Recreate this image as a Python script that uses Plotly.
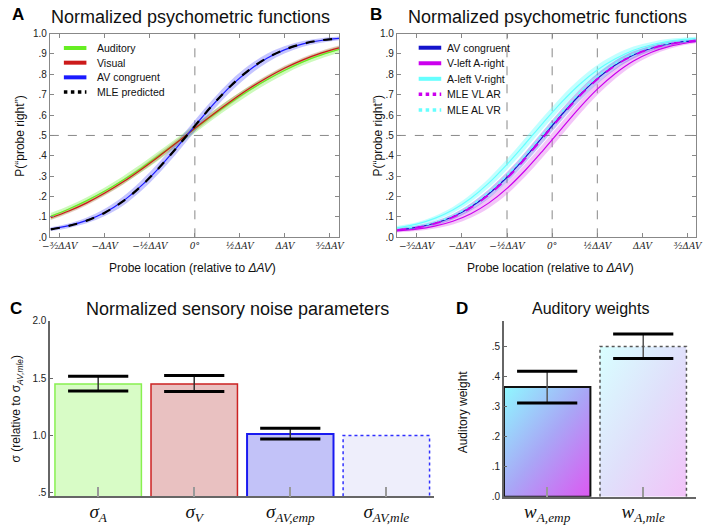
import base64
import plotly.graph_objects as go

W, H = 705, 527
SANS = "Liberation Sans, Arial, sans-serif"
SERIF = "Liberation Serif, DejaVu Serif, serif"
MATH = "DejaVu Serif, serif"

# ---------------- data ----------------
# Panel A: normalized psychometric functions (probe location in units of ΔAV)
x_a = [-1.6, -1.4, -1.2, -1.0, -0.8, -0.6, -0.4, -0.2, 0.0, 0.2, 0.4, 0.6, 0.8, 1.0, 1.2, 1.4, 1.6]
p_auditory = [0.103, 0.139, 0.180, 0.227, 0.280, 0.338, 0.401, 0.467, 0.533, 0.599, 0.662, 0.720, 0.773, 0.820, 0.861, 0.894, 0.922]
ci_auditory = [0.016, 0.016, 0.017, 0.018, 0.019, 0.020, 0.021, 0.021, 0.021, 0.021, 0.021, 0.020, 0.019, 0.018, 0.017, 0.016, 0.016]
p_visual = [0.096, 0.129, 0.169, 0.217, 0.271, 0.332, 0.397, 0.465, 0.535, 0.603, 0.668, 0.729, 0.783, 0.831, 0.871, 0.904, 0.930]
ci_visual = [0.011, 0.011, 0.012, 0.012, 0.013, 0.013, 0.014, 0.014, 0.014, 0.014, 0.014, 0.013, 0.013, 0.012, 0.012, 0.011, 0.011]
p_av = [0.040, 0.057, 0.083, 0.122, 0.177, 0.251, 0.340, 0.441, 0.547, 0.650, 0.743, 0.819, 0.879, 0.921, 0.949, 0.966, 0.976]
ci_av = [0.009, 0.011, 0.014, 0.018, 0.022, 0.025, 0.027, 0.028, 0.028, 0.028, 0.027, 0.025, 0.022, 0.018, 0.014, 0.011, 0.009]
p_mle = [0.039, 0.056, 0.082, 0.121, 0.176, 0.250, 0.340, 0.441, 0.547, 0.651, 0.744, 0.821, 0.880, 0.922, 0.950, 0.967, 0.976]

# Panel B
x_b = [-1.72, -1.5, -1.3, -1.1, -0.9, -0.7, -0.5, -0.3, -0.1, 0.1, 0.3, 0.5, 0.7, 0.9, 1.1, 1.3, 1.5, 1.6]
pb_av = [0.036, 0.049, 0.069, 0.101, 0.149, 0.214, 0.295, 0.391, 0.495, 0.599, 0.696, 0.779, 0.846, 0.895, 0.928, 0.950, 0.962, 0.966]
cib_av = [0.008, 0.009, 0.011, 0.014, 0.018, 0.022, 0.025, 0.027, 0.028, 0.028, 0.027, 0.025, 0.022, 0.018, 0.014, 0.011, 0.009, 0.008]
pb_vlar = [0.032, 0.040, 0.055, 0.079, 0.116, 0.169, 0.240, 0.328, 0.427, 0.531, 0.634, 0.727, 0.804, 0.865, 0.908, 0.937, 0.955, 0.961]
cib_vlar = [0.008, 0.009, 0.012, 0.016, 0.020, 0.025, 0.029, 0.031, 0.032, 0.032, 0.031, 0.029, 0.025, 0.020, 0.016, 0.012, 0.009, 0.008]
pb_alvr = [0.047, 0.065, 0.093, 0.134, 0.192, 0.267, 0.358, 0.458, 0.562, 0.661, 0.749, 0.821, 0.876, 0.918, 0.945, 0.963, 0.973, 0.977]
cib_alvr = [0.008, 0.009, 0.012, 0.015, 0.019, 0.023, 0.026, 0.028, 0.028, 0.028, 0.027, 0.025, 0.022, 0.018, 0.014, 0.011, 0.009, 0.008]
pb_mle_vlar = [0.035, 0.048, 0.068, 0.099, 0.146, 0.210, 0.290, 0.386, 0.490, 0.594, 0.692, 0.776, 0.844, 0.893, 0.927, 0.949, 0.961, 0.966]
pb_mle_alvr = [0.038, 0.052, 0.073, 0.106, 0.156, 0.222, 0.304, 0.402, 0.507, 0.611, 0.707, 0.788, 0.853, 0.900, 0.932, 0.953, 0.964, 0.968]
b_ref_x = [-0.5, 0.0, 0.5]

loc_tickvals = [-1.5, -1.0, -0.5, 0.0, 0.5, 1.0, 1.5]
loc_ticktext = ["−³⁄₂ΔAV", "−ΔAV", "−½ΔAV", "0°", "½ΔAV", "ΔAV", "³⁄₂ΔAV"]
p_tickvals = [0.0, 0.1, 0.2, 0.3, 0.4, 0.5, 0.6, 0.7, 0.8, 0.9, 1.0]
p_ticktext = [".0", ".1", ".2", ".3", ".4", ".5", ".6", ".7", ".8", ".9", "1.0"]

# Panel C: normalized sensory noise
sigma_labels = ["σ<sub>A</sub>", "σ<sub>V</sub>", "σ<sub>AV,emp</sub>", "σ<sub>AV,mle</sub>"]
sigma_vals = [1.45, 1.45, 1.015, 1.0]
sigma_err_hi = [0.067, 0.075, 0.050, 0.0]
sigma_err_lo = [0.060, 0.065, 0.045, 0.0]
sigma_ticks = [0.5, 1.0, 1.5, 2.0]
sigma_ticktext = [".5", "1.0", "1.5", "2.0"]

# Panel D: auditory weights
w_labels = ["w<sub>A,emp</sub>", "w<sub>A,mle</sub>"]
w_vals = [0.365, 0.500]
w_err_hi = [0.053, 0.042]
w_err_lo = [0.053, 0.040]
w_ticks = [0.0, 0.1, 0.2, 0.3, 0.4, 0.5]
w_ticktext = [".0", ".1", ".2", ".3", ".4", ".5"]

# ---------------- helpers ----------------
def px(x):
    return x / W


def py(y):
    return 1 - y / H


fig = go.Figure()


def add_band(x, y, ci, color, xr, yr):
    lo = [v - c for v, c in zip(y, ci)]
    hi = [v + c for v, c in zip(y, ci)]
    fig.add_trace(go.Scatter(x=x, y=lo, mode="lines", line=dict(width=0, shape="spline"),
                             hoverinfo="skip", showlegend=False, xaxis=xr, yaxis=yr))
    fig.add_trace(go.Scatter(x=x, y=hi, mode="lines", line=dict(width=0, shape="spline"),
                             fill="tonexty", fillcolor=color, hoverinfo="skip",
                             showlegend=False, xaxis=xr, yaxis=yr))


def add_curve(x, y, name, color, width, dash, xr, yr):
    fig.add_trace(go.Scatter(x=x, y=y, name=name, mode="lines",
                             line=dict(color=color, width=width, dash=dash, shape="spline"),
                             showlegend=False, xaxis=xr, yaxis=yr))


# ---------------- Panel A ----------------
GREEN, RED, BLUE = "#66ee22", "#cc1a1a", "#1a1aff"
add_band(x_a, p_auditory, ci_auditory, "rgba(110,240,60,0.35)", "x", "y")
add_band(x_a, p_visual, ci_visual, "rgba(180,80,50,0.30)", "x", "y")
add_band(x_a, p_av, ci_av, "rgba(90,90,255,0.35)", "x", "y")
add_curve(x_a, p_auditory, "Auditory", GREEN, 1.2, "solid", "x", "y")
add_curve(x_a, p_visual, "Visual", RED, 1.2, "solid", "x", "y")
add_curve(x_a, p_av, "AV congruent", BLUE, 1.2, "solid", "x", "y")
add_curve(x_a, p_mle, "MLE predicted", "#000000", 2.2, "dash", "x", "y")

# ---------------- Panel B ----------------
BBLUE, MAG, CYAN = "#1414cc", "#cc00ee", "#66ffff"
add_band(x_b, pb_alvr, cib_alvr, "rgba(120,255,255,0.45)", "x2", "y2")
add_band(x_b, pb_vlar, cib_vlar, "rgba(220,90,235,0.35)", "x2", "y2")
add_band(x_b, pb_av, cib_av, "rgba(80,80,230,0.35)", "x2", "y2")
add_curve(x_b, pb_alvr, "A-left V-right", CYAN, 1.2, "solid", "x2", "y2")
add_curve(x_b, pb_vlar, "V-left A-right", MAG, 1.2, "solid", "x2", "y2")
add_curve(x_b, pb_av, "AV congruent", BBLUE, 1.2, "solid", "x2", "y2")
add_curve(x_b, pb_mle_alvr, "MLE AL VR", CYAN, 1.5, "dot", "x2", "y2")
add_curve(x_b, pb_mle_vlar, "MLE VL AR", MAG, 2.0, "dash", "x2", "y2")

# ---------------- Panel C ----------------
c_x = list(range(len(sigma_vals)))
c_fill = ["#d8fcc6", "#e9c1c1", "#c2c2f8", "#eeeefb"]
c_line = ["#88f050", "#cc2222", "#1a1af0", "rgba(0,0,0,0)"]
c_lw = [1.5, 1.5, 2, 0]
BAR_W = 0.9
fig.add_trace(go.Bar(x=c_x, y=sigma_vals, width=BAR_W, name="sigma",
                     marker=dict(color=c_fill, line=dict(color=c_line, width=c_lw)),
                     error_y=dict(type="data", symmetric=False, array=sigma_err_hi,
                                  arrayminus=sigma_err_lo, thickness=1.5, width=0, color="#333"),
                     showlegend=False, xaxis="x3", yaxis="y3"))
c_base = 0.471
i_mle = 3
fig.add_trace(go.Scatter(
    x=[c_x[i_mle] - BAR_W / 2, c_x[i_mle] - BAR_W / 2, c_x[i_mle] + BAR_W / 2, c_x[i_mle] + BAR_W / 2],
    y=[c_base, sigma_vals[i_mle], sigma_vals[i_mle], c_base], mode="lines",
    line=dict(color="#3030ff", width=1.5, dash="dot"), showlegend=False, hoverinfo="skip",
    xaxis="x3", yaxis="y3"))
cap_x, cap_y = [], []
for i, v in enumerate(sigma_vals):
    if sigma_err_hi[i] > 0:
        cap_x += [c_x[i], c_x[i]]
        cap_y += [v + sigma_err_hi[i], v - sigma_err_lo[i]]
fig.add_trace(go.Scatter(x=cap_x, y=cap_y, mode="markers",
                         marker=dict(symbol="line-ew", size=43, line=dict(width=3, color="#000")),
                         showlegend=False, hoverinfo="skip", xaxis="x3", yaxis="y3"))

# ---------------- Panel D ----------------
d_x = list(range(len(w_vals)))


def grad_uri(c0, c1, c2):
    svg = ("<svg xmlns='http://www.w3.org/2000/svg' width='100' height='100' viewBox='0 0 100 100' "
           "preserveAspectRatio='none'><defs><linearGradient id='g' x1='0' y1='0' x2='1' y2='1'>"
           f"<stop offset='0' stop-color='{c0}'/><stop offset='0.5' stop-color='{c1}'/>"
           f"<stop offset='1' stop-color='{c2}'/></linearGradient></defs>"
           "<rect width='100' height='100' fill='url(#g)'/></svg>")
    return "data:image/svg+xml;base64," + base64.b64encode(svg.encode()).decode()


d_grads = [grad_uri("#8ff8ff", "#a9a6f6", "#dc58f2"), grad_uri("#d8ffff", "#e0e0fb", "#f2c2f8")]
images = []
for i, v in enumerate(w_vals):
    images.append(dict(source=d_grads[i], xref="x4", yref="y4", x=d_x[i] - BAR_W / 2, y=v,
                       sizex=BAR_W, sizey=v, xanchor="left", yanchor="top",
                       sizing="stretch", layer="below"))
fig.add_trace(go.Bar(x=d_x, y=w_vals, width=BAR_W, name="weights",
                     marker=dict(color="rgba(0,0,0,0)",
                                 line=dict(color=["#111", "rgba(0,0,0,0)"], width=[2, 0])),
                     error_y=dict(type="data", symmetric=False, array=w_err_hi,
                                  arrayminus=w_err_lo, thickness=1.5, width=0, color="#555"),
                     showlegend=False, xaxis="x4", yaxis="y4"))
j = 1
fig.add_trace(go.Scatter(
    x=[d_x[j] - BAR_W / 2, d_x[j] - BAR_W / 2, d_x[j] + BAR_W / 2, d_x[j] + BAR_W / 2],
    y=[0, w_vals[j], w_vals[j], 0], mode="lines",
    line=dict(color="#555", width=1.5, dash="dot"), showlegend=False, hoverinfo="skip",
    xaxis="x4", yaxis="y4"))
fig.add_trace(go.Scatter(x=d_x + d_x,
                         y=[v + e for v, e in zip(w_vals, w_err_hi)] + [v - e for v, e in zip(w_vals, w_err_lo)],
                         mode="markers",
                         marker=dict(symbol="line-ew", size=43, line=dict(width=3, color="#000")),
                         showlegend=False, hoverinfo="skip", xaxis="x4", yaxis="y4"))

# ---------------- axes ----------------
box = dict(showgrid=False, zeroline=False, showline=True, linecolor="#888", linewidth=1,
           mirror="ticks", ticks="inside", ticklen=4, tickcolor="#888", tickwidth=1)
xt_font = dict(family=MATH, size=9, color="#222", style="italic")
yt_font = dict(family=SANS, size=10, color="#222")
bar_xfont = dict(family=SERIF, size=19, color="#111", style="italic")

fig.update_layout(
    xaxis=dict(domain=[px(42.7), px(337.7)], range=[-1.61, 1.60], anchor="y",
               tickvals=loc_tickvals, ticktext=loc_ticktext, tickfont=xt_font, **box),
    yaxis=dict(domain=[py(236.7), py(28.2)], range=[0, 1], anchor="x",
               tickvals=p_tickvals, ticktext=p_ticktext, tickfont=yt_font, **box),
    xaxis2=dict(domain=[px(396.7), px(701.7)], range=[-1.72, 1.59], anchor="y2",
                tickvals=loc_tickvals, ticktext=loc_ticktext, tickfont=xt_font, **box),
    yaxis2=dict(domain=[py(236.7), py(28.2)], range=[0, 1], anchor="x2",
                tickvals=p_tickvals, ticktext=p_ticktext, tickfont=yt_font, **box),
    xaxis3=dict(domain=[px(43), px(435)], range=[-0.5, 3.5], anchor="y3",
                tickvals=c_x, ticktext=sigma_labels, tickfont=bar_xfont, ticklabelstandoff=-3,
                ticks="inside", ticklen=10, tickcolor="#999", tickwidth=1.5,
                showline=True, linecolor="#666", linewidth=1.5, showgrid=False, zeroline=False),
    yaxis3=dict(domain=[py(501.7), py(322.3)], range=[c_base, 2.0], anchor="x3",
                tickvals=sigma_ticks, ticktext=sigma_ticktext, tickfont=yt_font,
                ticks="inside", ticklen=3, tickcolor="#666",
                showline=True, linecolor="#666", linewidth=1.5, showgrid=False, zeroline=False),
    xaxis4=dict(domain=[px(506), px(702)], range=[-0.45, 1.55], anchor="y4",
                tickvals=d_x, ticktext=w_labels, tickfont=bar_xfont, ticklabelstandoff=-3,
                ticks="inside", ticklen=10, tickcolor="#999", tickwidth=1.5,
                showline=True, linecolor="#666", linewidth=1.5, showgrid=False, zeroline=False),
    yaxis4=dict(domain=[py(502.3), py(322.3)], range=[0, 0.585], anchor="x4",
                tickvals=w_ticks, ticktext=w_ticktext, tickfont=yt_font,
                ticks="inside", ticklen=3, tickcolor="#666",
                showline=True, linecolor="#666", linewidth=1.5, showgrid=False, zeroline=False),
)

# ---------------- reference lines ----------------
ref = dict(color="#888", width=1, dash="dash")
shapes = [
    dict(type="line", xref="x", yref="y domain", x0=0, x1=0, y0=0, y1=1, line=ref, layer="below"),
    dict(type="line", xref="x domain", yref="y", x0=0, x1=1, y0=0.5, y1=0.5, line=ref, layer="below"),
    dict(type="line", xref="x2 domain", yref="y2", x0=0, x1=1, y0=0.5, y1=0.5, line=ref, layer="below"),
]
for xv in b_ref_x:
    shapes.append(dict(type="line", xref="x2", yref="y2 domain", x0=xv, x1=xv, y0=0, y1=1,
                       line=ref, layer="below"))

# ---------------- legends (drawn manually) ----------------
annotations = []
legend_a = [("Auditory", GREEN, "solid"), ("Visual", RED, "solid"),
            ("AV congruent", BLUE, "solid"), ("MLE predicted", "#000000", "dot")]
legend_b = [("AV congruent", BBLUE, "solid"), ("V-left A-right", MAG, "solid"),
            ("A-left V-right", CYAN, "solid"), ("MLE VL AR", MAG, "dot"), ("MLE AL VR", CYAN, "dot")]


def draw_legend(items, x0, x1, xt, y0, dy):
    for k, (name, col, dash) in enumerate(items):
        yy = y0 + k * dy
        shapes.append(dict(type="line", xref="paper", yref="paper", x0=px(x0), x1=px(x1),
                           y0=py(yy), y1=py(yy),
                           line=dict(color=col, width=4 if dash == "solid" else 3.5, dash=dash)))
        annotations.append(dict(text=name, x=px(xt), y=py(yy), xref="paper", yref="paper",
                                xanchor="left", yanchor="middle", showarrow=False,
                                font=dict(family=SANS, size=10.5, color="#111")))


draw_legend(legend_a, 57, 80, 89, 43, 15)
draw_legend(legend_b, 419, 442, 446, 42.7, 15.9)

# ---------------- texts ----------------
def txt(s, x, y, size, angle=None, color="#111", xanchor="center"):
    a = dict(text=s, x=px(x), y=py(y), xref="paper", yref="paper",
             xanchor=xanchor, yanchor="middle", showarrow=False,
             font=dict(family=SANS, size=size, color=color))
    if angle is not None:
        a["textangle"] = angle
    annotations.append(a)


txt("<b>A</b>", 2.5, 9, 17, color="#000", xanchor="left")
txt("Normalized psychometric functions", 186, 11, 18)
txt("<b>B</b>", 367.5, 9, 17, color="#000", xanchor="left")
txt("Normalized psychometric functions", 550, 11, 18)
txt("<b>C</b>", 0, 310, 17, color="#000", xanchor="left")
txt("Normalized sensory noise parameters", 234, 310, 18)
txt("<b>D</b>", 455.5, 310, 17, color="#000", xanchor="left")
txt("Auditory weights", 594, 310, 16)

txt("P(“probe right”)", 12, 133, 12, angle=-90)
txt("Probe location (relative to <i>ΔAV</i>)", 188, 268, 12)
txt("P(“probe right”)", 377, 133, 12, angle=-90)
txt("Probe location (relative to <i>ΔAV</i>)", 553, 268, 12)
txt("σ (relative to σ<sub><i>AV,mle</i></sub>)", 9, 412, 12, angle=-90)
txt("Auditory weight", 464, 415, 12, angle=-90)

fig.update_layout(
    width=W, height=H, margin=dict(l=0, r=0, t=0, b=0),
    paper_bgcolor="white", plot_bgcolor="white", showlegend=False,
    shapes=shapes, annotations=annotations, images=images,
    font=dict(family=SANS, color="#111"),
)

fig.write_html("out.html", config={"displayModeBar": False},
               post_script="document.body.style.margin='0';")
